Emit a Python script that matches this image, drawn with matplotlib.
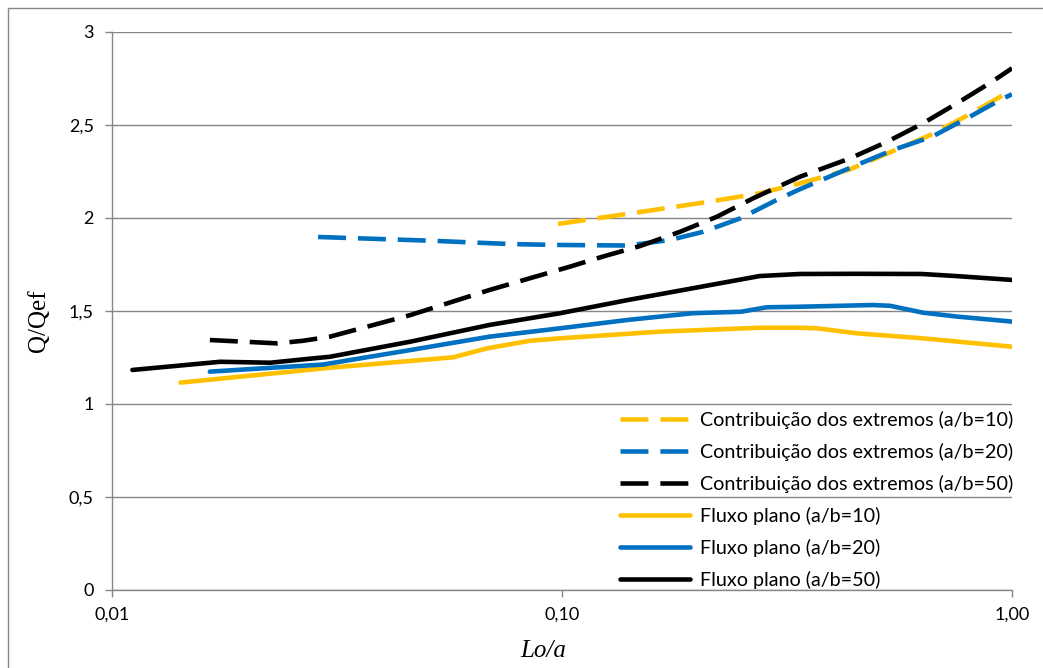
import matplotlib
matplotlib.use("Agg")
import matplotlib.pyplot as plt
from matplotlib.patches import Rectangle

# ---- data: Lo/a positions and Q/Qef values ----
x_ce10 = [0.098, 0.151, 0.213, 0.275, 0.338, 0.437, 0.544, 0.664, 0.794, 0.955, 1.0]
y_ce10 = [1.968, 2.034, 2.088, 2.133, 2.186, 2.262, 2.360, 2.450, 2.550, 2.660, 2.685]

x_ce20 = [0.0287, 0.0509, 0.0766, 0.099, 0.14, 0.174, 0.206, 0.249, 0.30, 0.338,
          0.452, 0.544, 0.664, 0.794, 0.955, 1.0]
y_ce20 = [1.898, 1.878, 1.860, 1.855, 1.852, 1.882, 1.926, 1.998, 2.097, 2.155,
          2.285, 2.366, 2.437, 2.536, 2.643, 2.665]

x_ce50 = [0.0165, 0.0233, 0.0266, 0.0305, 0.046, 0.069, 0.104, 0.123, 0.149, 0.183,
          0.221, 0.266, 0.338, 0.437, 0.528, 0.634, 0.755, 0.903, 1.0]
y_ce50 = [1.344, 1.326, 1.340, 1.362, 1.478, 1.613, 1.738, 1.792, 1.849, 1.926,
          2.007, 2.106, 2.222, 2.321, 2.410, 2.509, 2.617, 2.733, 2.805]

x_fp10 = [0.0142, 0.0305, 0.0573, 0.0681, 0.0849, 0.099, 0.165, 0.275, 0.338,
          0.369, 0.452, 0.634, 1.0]
y_fp10 = [1.115, 1.195, 1.251, 1.299, 1.340, 1.353, 1.389, 1.410, 1.410,
          1.407, 1.380, 1.353, 1.308]

x_fp20 = [0.0165, 0.0294, 0.046, 0.069, 0.099, 0.14, 0.195, 0.25, 0.285, 0.338,
          0.49, 0.536, 0.634, 0.755, 1.0]
y_fp20 = [1.174, 1.212, 1.290, 1.362, 1.407, 1.452, 1.488, 1.496, 1.520, 1.523,
          1.532, 1.528, 1.491, 1.470, 1.443]

x_fp50 = [0.0111, 0.0174, 0.0225, 0.0266, 0.0305, 0.046, 0.069, 0.099, 0.14, 0.195,
          0.275, 0.338, 0.45, 0.63, 0.75, 1.0]
y_fp50 = [1.183, 1.227, 1.222, 1.240, 1.254, 1.335, 1.425, 1.488, 1.559, 1.622,
          1.688, 1.699, 1.700, 1.699, 1.688, 1.667]

labels = [
    "Contribuição dos extremos (a/b=10)",
    "Contribuição dos extremos (a/b=20)",
    "Contribuição dos extremos (a/b=50)",
    "Fluxo plano (a/b=10)",
    "Fluxo plano (a/b=20)",
    "Fluxo plano (a/b=50)",
]

x_ticks = [0.01, 0.1, 1.0]
x_ticklabels = ["0,01", "0,10", "1,00"]
y_ticks = [0, 0.5, 1, 1.5, 2, 2.5, 3]
y_ticklabels = ["0", "0,5", "1", "1,5", "2", "2,5", "3"]

YELLOW = "#FFC000"
BLUE = "#0070C0"
BLACK = "#000000"
GRID = "#868686"

W, H = 1043, 668
fig = plt.figure(figsize=(W / 100, H / 100), dpi=100)
ax = fig.add_axes([112 / W, 1 - 590 / H, (1012 - 112) / W, (590 - 32) / H])

lw = 3.3
dash = (0, (6.1, 2.6))
series = [
    (x_ce10, y_ce10, YELLOW, dash),
    (x_ce20, y_ce20, BLUE, dash),
    (x_ce50, y_ce50, BLACK, dash),
    (x_fp10, y_fp10, YELLOW, "-"),
    (x_fp20, y_fp20, BLUE, "-"),
    (x_fp50, y_fp50, BLACK, "-"),
]
for (xs, ys, c, ls), lab in zip(series, labels):
    ax.plot(xs, ys, color=c, linestyle=ls, lw=lw, label=lab,
            solid_capstyle="round", solid_joinstyle="round",
            dash_capstyle="butt", zorder=3)

ax.set_xscale("log")
ax.set_xlim(0.01, 1.0)
ax.set_ylim(0, 3)
ax.set_xticks(x_ticks)
ax.set_xticklabels(x_ticklabels)
ax.minorticks_off()
ax.set_yticks(y_ticks)
ax.set_yticklabels(y_ticklabels)

ax.grid(axis="y", color=GRID, lw=1.0, zorder=0)
for s in ("top", "right"):
    ax.spines[s].set_visible(False)
for s in ("left", "bottom"):
    ax.spines[s].set_color(GRID)
    ax.spines[s].set_linewidth(1.0)
ax.tick_params(axis="both", direction="out", length=5, width=1.0, color=GRID,
               labelsize=13, labelcolor="#000000")
ax.tick_params(axis="y", pad=8)
ax.tick_params(axis="x", pad=7)
for t in ax.get_xticklabels() + ax.get_yticklabels():
    t.set_fontfamily("Lato")

fig.text(39 / W, 1 - 321 / H, "Q/Qef", rotation=90, ha="center", va="center",
         fontsize=18, family="Liberation Serif")
fig.text(543 / W, 1 - 651 / H, "Lo/a", ha="center", va="center",
         fontsize=18, family="Liberation Serif", style="italic")

leg = ax.legend(loc="upper left", bbox_to_anchor=(620 / W, 1 - 411 / H),
                bbox_transform=fig.transFigure, frameon=False,
                prop={"family": "Lato", "size": 14.2},
                handlelength=3.55, handletextpad=0.5, labelspacing=0.71,
                borderaxespad=0, borderpad=0)

# outer chart frame
fig.patches.append(Rectangle((8 / W, -0.2), 1.5, 1 - 8 / H + 0.2,
                             transform=fig.transFigure, fill=False,
                             edgecolor=GRID, lw=1.0))

fig.savefig("out.png", dpi=100)
